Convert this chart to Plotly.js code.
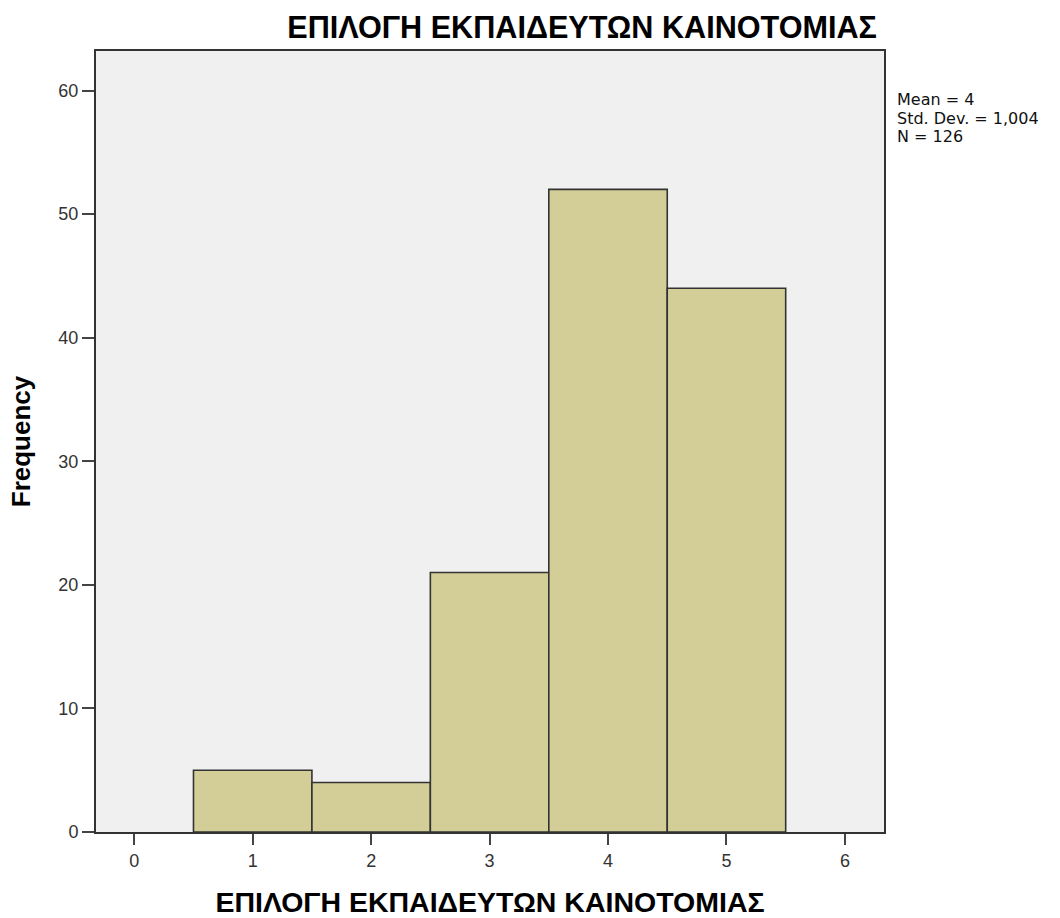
<!DOCTYPE html>
<html>
<head>
<meta charset="utf-8">
<script src="https://cdn.plot.ly/plotly-3.0.1.min.js"></script>
<style>html,body{margin:0;padding:0;background:#fff;}#chart{width:1060px;height:918px;}</style>
</head>
<body>
<div id="chart"></div>
<script>
var categories = [1, 2, 3, 4, 5];
var frequencies = [5, 4, 21, 52, 44];
var xTickValues = [0, 1, 2, 3, 4, 5, 6];
var yTickValues = [0, 10, 20, 30, 40, 50, 60];
var chartTitle = "ΕΠΙΛΟΓΗ ΕΚΠΑΙΔΕΥΤΩΝ ΚΑΙΝΟΤΟΜΙΑΣ";
var xTitle = "ΕΠΙΛΟΓΗ ΕΚΠΑΙΔΕΥΤΩΝ ΚΑΙΝΟΤΟΜΙΑΣ";
var yTitle = "Frequency";
var statsLines = ["Mean = 4", "Std. Dev. = 1,004", "N = 126"];

var trace = {
  type: 'bar',
  x: categories,
  y: frequencies,
  width: 1,
  marker: {color: '#d3ce97', line: {color: '#333333', width: 1.6}},
  hoverinfo: 'x+y'
};

var statsY = [0.9385, 0.9142, 0.8899];
var statsAnnotations = statsLines.map(function (t, i) {
  return {
    xref: 'paper', yref: 'paper', x: 1.014, y: statsY[i], xanchor: 'left', yanchor: 'middle',
    align: 'left', showarrow: false, text: t,
    font: {family: 'DejaVu Sans, sans-serif', size: 16, color: '#111111'}
  };
});

var layout = {
  width: 1060, height: 918,
  margin: {l: 96, r: 176, t: 51, b: 86},
  paper_bgcolor: '#ffffff',
  plot_bgcolor: '#f0f0f0',
  showlegend: false,
  bargap: 0,
  font: {family: 'Liberation Sans, Arial, sans-serif', color: '#222222'},
  title: {
    text: '<b>' + chartTitle + '</b>',
    font: {family: 'Liberation Sans, Arial, sans-serif', size: 30.6, color: '#000000'},
    xref: 'paper', x: 0.991, xanchor: 'right',
    yref: 'container', y: 0.9706, yanchor: 'middle'
  },
  xaxis: {
    range: [-0.323, 6.33],
    tickmode: 'array', tickvals: xTickValues, ticktext: xTickValues.map(String),
    ticks: 'outside', ticklen: 11, tickwidth: 2, tickcolor: '#444444',
    tickfont: {size: 18, color: '#333333'},
    showgrid: false, zeroline: false,
    showline: true, linecolor: '#333333', linewidth: 2, mirror: true,
    title: {text: '<b>' + xTitle + '</b>', font: {size: 28.5, color: '#000000'}, standoff: 23},
    automargin: false, fixedrange: true
  },
  yaxis: {
    range: [0, 63.2],
    tickmode: 'array', tickvals: yTickValues, ticktext: yTickValues.map(String),
    ticks: 'outside', ticklen: 12, tickwidth: 2, tickcolor: '#444444',
    tickfont: {size: 18, color: '#333333'},
    showgrid: false, zeroline: false,
    showline: true, linecolor: '#333333', linewidth: 2, mirror: true,
    title: {text: '<b>' + yTitle + '</b>', font: {size: 26, color: '#000000'}, standoff: 20},
    automargin: false, fixedrange: true
  },
  annotations: statsAnnotations
};

Plotly.newPlot('chart', [trace], layout, {displayModeBar: false, staticPlot: true});
</script>
</body>
</html>
